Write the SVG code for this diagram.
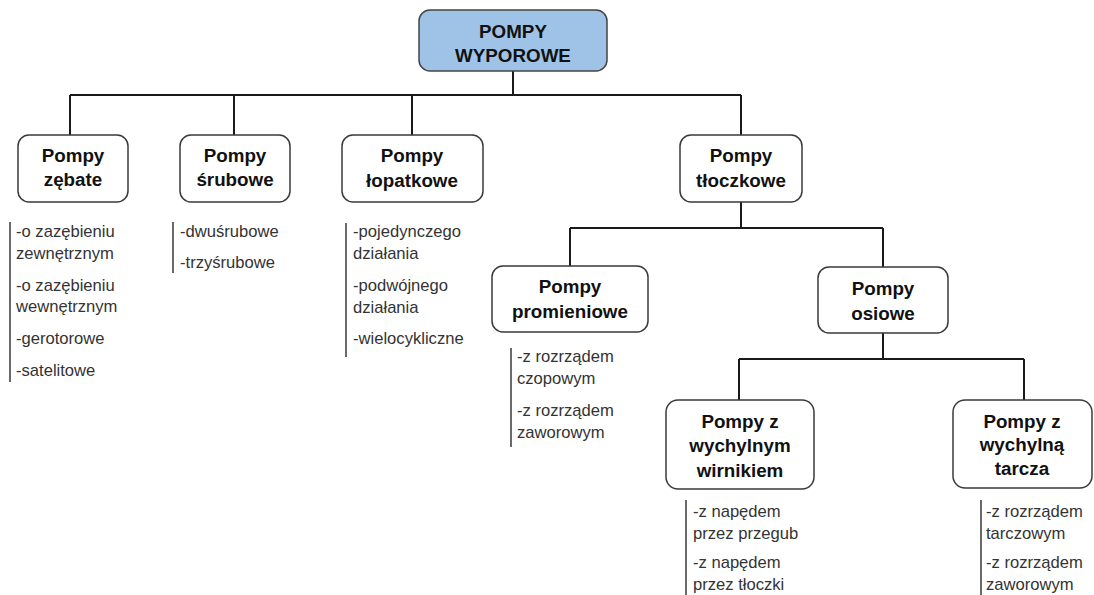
<svg xmlns="http://www.w3.org/2000/svg" width="1094" height="595" viewBox="0 0 1094 595">
<style>
.box{fill:#ffffff;stroke:#3a3a3a;stroke-width:1.5}
.root{fill:#9fc3e7;stroke:#444;stroke-width:1.5}
.t{font-family:"Liberation Sans",Arial,sans-serif;font-weight:bold;font-size:18.8px;fill:#111;text-anchor:middle}
.l{font-family:"Liberation Sans",Arial,sans-serif;font-size:16.6px;fill:#333}
.bar{stroke:#444;stroke-width:1.6}
.c{stroke:#1a1a1a;stroke-width:2;fill:none}
</style>
<rect width="1094" height="595" fill="#ffffff"/>
<g id="connectors">
<path class="c" d="M513 71V95M70 95H741M70 95V135M234 95V135M412 95V135M741 95V135"/>
<path class="c" d="M741 202V228M570 228H883M570 228V266M883 228V267"/>
<path class="c" d="M883 333V359M739 359H1024M739 359V400M1024 359V400"/>
</g>
<g id="root">
<rect class="root" x="419" y="10" width="188" height="61" rx="11"/>
<text class="t" x="513" y="38">POMPY</text>
<text class="t" x="513" y="62">WYPOROWE</text>
</g>
<g id="zebate">
<rect class="box" x="18" y="135" width="110" height="67" rx="11"/>
<text class="t" x="73" y="162">Pompy</text>
<text class="t" x="73" y="186">zębate</text>
</g>
<g id="srubowe">
<rect class="box" x="180" y="135" width="110" height="67" rx="11"/>
<text class="t" x="235" y="162">Pompy</text>
<text class="t" x="235" y="186">śrubowe</text>
</g>
<g id="lopatkowe">
<rect class="box" x="342" y="135" width="141" height="67" rx="11"/>
<text class="t" x="412" y="162">Pompy</text>
<text class="t" x="412" y="187">łopatkowe</text>
</g>
<g id="tloczkowe">
<rect class="box" x="680" y="135" width="122" height="67" rx="11"/>
<text class="t" x="741" y="162">Pompy</text>
<text class="t" x="741" y="187">tłoczkowe</text>
</g>
<g id="promieniowe">
<rect class="box" x="492" y="266" width="156" height="66" rx="11"/>
<text class="t" x="570" y="293">Pompy</text>
<text class="t" x="570" y="318">promieniowe</text>
</g>
<g id="osiowe">
<rect class="box" x="818" y="267" width="130" height="66" rx="11"/>
<text class="t" x="883" y="295">Pompy</text>
<text class="t" x="883" y="320">osiowe</text>
</g>
<g id="wirnikiem">
<rect class="box" x="666" y="400" width="148" height="89" rx="12"/>
<text class="t" x="740" y="428">Pompy z</text>
<text class="t" x="740" y="452">wychylnym</text>
<text class="t" x="740" y="477">wirnikiem</text>
</g>
<g id="tarcza">
<rect class="box" x="953" y="400" width="139" height="88" rx="12"/>
<text class="t" x="1022" y="428">Pompy z</text>
<text class="t" x="1022" y="451">wychylną</text>
<text class="t" x="1022" y="475">tarcza</text>
</g>
<g id="list-zebate">
<line class="bar" x1="10" y1="222" x2="10" y2="382"/>
<text class="l" x="16" y="237">-o zazębieniu</text>
<text class="l" x="16" y="259">zewnętrznym</text>
<text class="l" x="16" y="291">-o zazębieniu</text>
<text class="l" x="16" y="312">wewnętrznym</text>
<text class="l" x="16" y="344">-gerotorowe</text>
<text class="l" x="16" y="376">-satelitowe</text>
</g>
<g id="list-srubowe">
<line class="bar" x1="173" y1="222" x2="173" y2="273"/>
<text class="l" x="180" y="237">-dwuśrubowe</text>
<text class="l" x="180" y="268">-trzyśrubowe</text>
</g>
<g id="list-lopatkowe">
<line class="bar" x1="346" y1="223" x2="346" y2="357"/>
<text class="l" x="353" y="237">-pojedynczego</text>
<text class="l" x="353" y="259">działania</text>
<text class="l" x="353" y="291">-podwójnego</text>
<text class="l" x="353" y="313">działania</text>
<text class="l" x="353" y="344">-wielocykliczne</text>
</g>
<g id="list-promieniowe">
<line class="bar" x1="511" y1="348" x2="511" y2="447"/>
<text class="l" x="517" y="362">-z rozrządem</text>
<text class="l" x="517" y="384">czopowym</text>
<text class="l" x="517" y="416">-z rozrządem</text>
<text class="l" x="517" y="438">zaworowym</text>
</g>
<g id="list-wirnikiem">
<line class="bar" x1="686" y1="500" x2="686" y2="595"/>
<text class="l" x="693" y="517">-z napędem</text>
<text class="l" x="693" y="539">przez przegub</text>
<text class="l" x="693" y="568">-z napędem</text>
<text class="l" x="693" y="590">przez tłoczki</text>
</g>
<g id="list-tarcza">
<line class="bar" x1="981" y1="500" x2="981" y2="595"/>
<text class="l" x="986" y="517">-z rozrządem</text>
<text class="l" x="986" y="539">tarczowym</text>
<text class="l" x="986" y="568">-z rozrządem</text>
<text class="l" x="986" y="590">zaworowym</text>
</g>
</svg>
